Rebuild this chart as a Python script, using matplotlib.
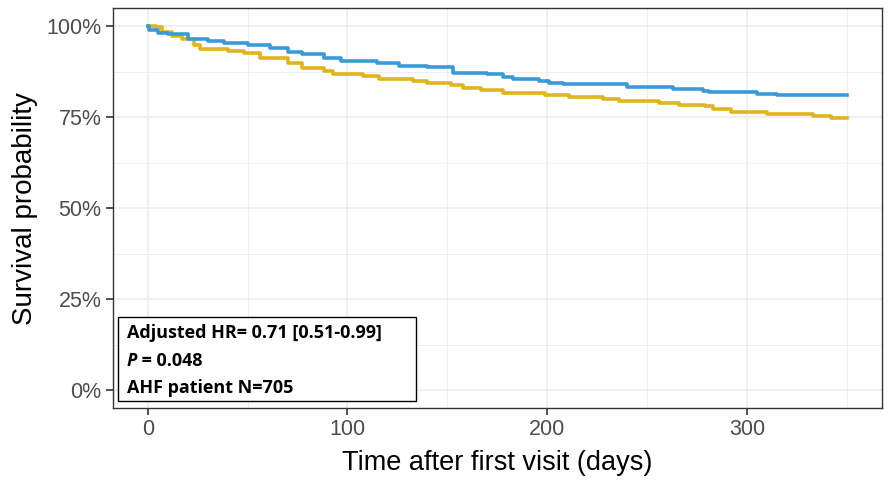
import matplotlib
matplotlib.use("Agg")
import matplotlib.pyplot as plt
from matplotlib.text import Annotation
from matplotlib.ticker import FixedLocator

# ----- data (step survival curves) -----
days_blue = [0, 0.5, 5, 10, 20, 30, 38, 50, 61, 70, 77, 88, 97, 115, 126, 140,
             153, 170, 178, 183, 196, 201, 208, 240, 263, 278, 281, 305, 315, 350]
surv_blue = [1.000, 0.989, 0.983, 0.978, 0.966, 0.960, 0.953, 0.948, 0.941, 0.930,
             0.923, 0.914, 0.906, 0.900, 0.891, 0.887, 0.872, 0.868, 0.861, 0.854,
             0.851, 0.845, 0.841, 0.834, 0.828, 0.822, 0.819, 0.814, 0.810, 0.810]

days_yellow = [0, 4, 7, 12, 17, 23, 26, 40, 48, 56, 70, 77, 88, 93, 108, 116, 133,
               140, 152, 158, 167, 178, 199, 211, 228, 236, 256, 266, 279, 283, 292,
               310, 333, 342, 350]
surv_yellow = [1.000, 0.998, 0.984, 0.973, 0.964, 0.950, 0.937, 0.932, 0.927, 0.914,
               0.900, 0.886, 0.877, 0.868, 0.863, 0.854, 0.849, 0.845, 0.840, 0.831,
               0.825, 0.817, 0.812, 0.806, 0.801, 0.794, 0.790, 0.785, 0.780, 0.773,
               0.764, 0.758, 0.753, 0.749, 0.748]

x_ticks = [0, 100, 200, 300]
y_ticks = [0, 0.25, 0.5, 0.75, 1.0]
y_tick_labels = ["0%", "25%", "50%", "75%", "100%"]

annot_lines = ["Adjusted HR= 0.71 [0.51-0.99]", " = 0.048", "AHF patient N=705"]

BLUE = "#3A9AD8"
YELLOW = "#E0B41E"
GRID = "#EBEBEB"
TICK_TXT = "#4D4D4D"

plt.rcParams["font.family"] = ["Liberation Sans", "DejaVu Sans"]

fig = plt.figure(figsize=(8.88, 4.83), dpi=100)
ax = fig.add_axes([0.127, 0.155, 0.866, 0.828])

ax.step(days_yellow, surv_yellow, where="post", color=YELLOW, lw=2.6, zorder=3)
ax.step(days_blue, surv_blue, where="post", color=BLUE, lw=2.6, zorder=4)

ax.set_xlim(-17.5, 367.5)
ax.set_ylim(-0.05, 1.05)

ax.set_xticks(x_ticks)
ax.set_yticks(y_ticks)
ax.set_yticklabels(y_tick_labels)
ax.xaxis.set_minor_locator(FixedLocator([50, 150, 250, 350]))
ax.yaxis.set_minor_locator(FixedLocator([0.125, 0.375, 0.625, 0.875]))

ax.grid(which="major", color=GRID, lw=1.1, zorder=0)
ax.grid(which="minor", color=GRID, lw=0.6, zorder=0)
ax.set_axisbelow(True)

ax.tick_params(axis="both", which="major", length=5, width=1.2, color="#333333",
               labelcolor=TICK_TXT, labelsize=15.5, pad=3)
ax.tick_params(axis="both", which="minor", length=0)
for s in ax.spines.values():
    s.set_color("#333333")
    s.set_linewidth(1.0)

ax.set_xlabel("Time after first visit (days)", fontsize=19.5, color="black", labelpad=7)
ax.set_ylabel("Survival probability", fontsize=20, color="black", labelpad=6)

# annotation box
box = plt.Rectangle((0.133, 0.170), 0.335, 0.174, transform=fig.transFigure,
                    facecolor="white", edgecolor="black", lw=1.0, zorder=5)
fig.patches.append(box)
tx = 0.143
fs = 13
fam = ["Open Sans", "DejaVu Sans"]
fig.text(tx, 0.311, annot_lines[0], fontsize=fs, fontweight="bold", family=fam,
         va="center", ha="left", zorder=6)
ptxt = fig.text(tx, 0.253, "P", fontsize=fs, fontweight="bold", style="italic",
                family=fam, va="center", ha="left", zorder=6)
fig.add_artist(Annotation(annot_lines[1], xy=(1, 0), xycoords=ptxt,
                          va="bottom", ha="left", fontsize=fs, fontweight="bold",
                          family=fam, zorder=6))
fig.text(tx, 0.197, annot_lines[2], fontsize=fs, fontweight="bold", family=fam,
         va="center", ha="left", zorder=6)

fig.savefig("out.png", dpi=100)
